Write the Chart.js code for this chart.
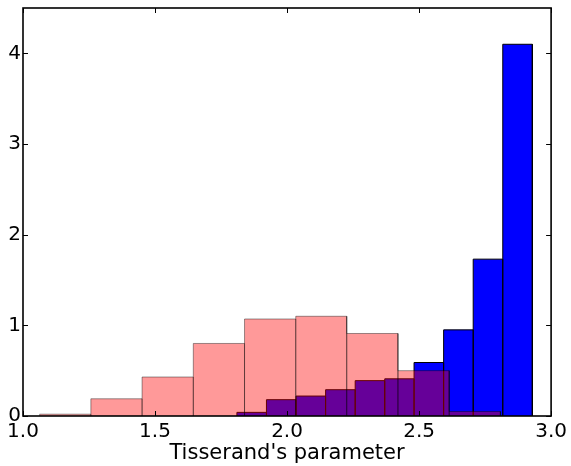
<!DOCTYPE html>
<html>
<head>
<meta charset="utf-8">
<script src="https://cdn.jsdelivr.net/npm/chart.js@4.4.1/dist/chart.umd.min.js"></script>
<style>
    body { margin: 0; background: #fff; }
    #wrap { width: 571px; height: 466px; position: relative; }
</style>
</head>
<body>
<div id="wrap"><canvas id="histChart"></canvas></div>
<script>
// Histogram of Tisserand's parameter, two samples
const blueEdges = [1.810, 1.922, 2.034, 2.146, 2.258, 2.370, 2.481, 2.593, 2.705, 2.817, 2.929];
const blueHeights = [0.04, 0.18, 0.22, 0.29, 0.39, 0.41, 0.59, 0.95, 1.73, 4.10];

const redEdges = [1.063, 1.257, 1.451, 1.645, 1.839, 2.033, 2.226, 2.420, 2.614, 2.808];
const redHeights = [0.02, 0.19, 0.43, 0.80, 1.07, 1.10, 0.91, 0.50, 0.05];

const xTicks = [1.0, 1.5, 2.0, 2.5, 3.0];
const yTicks = [0, 1, 2, 3, 4];
const xTitle = "Tisserand's parameter";

// turn bin edges + heights into outline points, one box per bin
function histPoints(edges, heights) {
    const pts = [];
    heights.forEach((h, i) => {
        pts.push({ x: edges[i], y: 0 });
        pts.push({ x: edges[i], y: h });
        pts.push({ x: edges[i + 1], y: h });
        pts.push({ x: edges[i + 1], y: 0 });
    });
    return pts;
}

// frame and inward tick marks, like matplotlib
const framePlugin = {
    id: 'frame',
    afterDatasetsDraw(chart) {
        const { ctx, chartArea: a, scales } = chart;
        ctx.save();
        ctx.strokeStyle = '#000';
        ctx.lineWidth = 1;
        const len = 5;
        scales.x.ticks.forEach(t => {
            const px = Math.round(scales.x.getPixelForValue(t.value)) + 0.5;
            ctx.beginPath();
            ctx.moveTo(px, a.bottom); ctx.lineTo(px, a.bottom - len);
            ctx.moveTo(px, a.top); ctx.lineTo(px, a.top + len);
            ctx.stroke();
        });
        scales.y.ticks.forEach(t => {
            const py = Math.round(scales.y.getPixelForValue(t.value)) + 0.5;
            ctx.beginPath();
            ctx.moveTo(a.left, py); ctx.lineTo(a.left + len, py);
            ctx.moveTo(a.right, py); ctx.lineTo(a.right - len, py);
            ctx.stroke();
        });
        ctx.lineWidth = 1.6;
        ctx.strokeRect(a.left, a.top, a.right - a.left, a.bottom - a.top);
        ctx.restore();
    }
};

const font = { family: "'DejaVu Sans', sans-serif", size: 20 };

new Chart(document.getElementById('histChart').getContext('2d'), {
    type: 'line',
    data: {
        datasets: [{
            // drawn last (on top), semi-transparent
            data: histPoints(redEdges, redHeights),
            backgroundColor: 'rgba(255, 0, 0, 0.4)',
            borderColor: 'rgba(0, 0, 0, 0.4)',
            borderWidth: 1,
            fill: 'origin',
            tension: 0,
            pointRadius: 0
        }, {
            data: histPoints(blueEdges, blueHeights),
            backgroundColor: '#0000ff',
            borderColor: '#000',
            borderWidth: 1,
            fill: 'origin',
            tension: 0,
            pointRadius: 0
        }]
    },
    options: {
        responsive: true,
        maintainAspectRatio: false,
        animation: false,
        layout: { padding: { top: 8, right: 18, left: 0, bottom: 0 } },
        plugins: {
            legend: { display: false },
            tooltip: { enabled: false }
        },
        scales: {
            x: {
                type: 'linear',
                min: 1,
                max: 3,
                grid: { display: false, drawTicks: false },
                border: { display: false },
                afterBuildTicks: s => { s.ticks = xTicks.map(v => ({ value: v })); },
                afterFit: s => { s.height = 50; },
                ticks: {
                    color: '#000',
                    font: font,
                    padding: 4,
                    maxRotation: 0,
                    callback: v => v.toFixed(1)
                },
                title: {
                    display: true,
                    text: xTitle,
                    color: '#000',
                    font: { family: font.family, size: 21 },
                    padding: { top: 0, bottom: 0 }
                }
            },
            y: {
                min: 0,
                max: 4.5,
                grid: { display: false, drawTicks: false },
                border: { display: false },
                afterBuildTicks: s => { s.ticks = yTicks.map(v => ({ value: v })); },
                afterFit: s => {
                    s.width = 23;
                    s.paddingTop = 0;
                    s.paddingBottom = 0;
                },
                ticks: {
                    color: '#000',
                    font: font,
                    padding: 2
                }
            }
        }
    },
    plugins: [framePlugin]
});
</script>
</body>
</html>
